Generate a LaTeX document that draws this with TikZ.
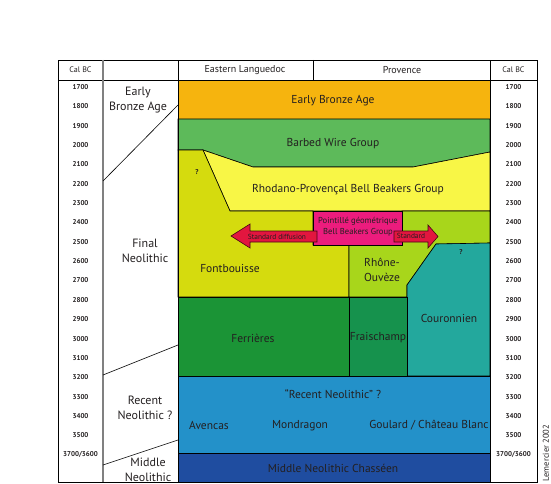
\documentclass[tikz,border=0pt]{standalone}
\usepackage{fontspec}
\setmainfont{PT Sans}
\usepackage{tikz}
\usetikzlibrary{positioning}

\definecolor{ebaorange}{HTML}{F6B40E}
\definecolor{barbedgreen}{HTML}{5DBA5A}
\definecolor{fontbyellow}{HTML}{D5DB0E}
\definecolor{rhodyellow}{HTML}{F8F646}
\definecolor{pointpink}{HTML}{EC1C7D}
\definecolor{arrowred}{HTML}{E2163F}
\definecolor{rhonegreen}{HTML}{A8D61B}
\definecolor{courteal}{HTML}{23A89D}
\definecolor{ferrgreen}{HTML}{1B9436}
\definecolor{fraigreen}{HTML}{16924D}
\definecolor{recentblue}{HTML}{2391C9}
\definecolor{middleblue}{HTML}{1F4DA0}
\definecolor{inkgray}{HTML}{231F20}

\begin{document}
\begin{tikzpicture}[
        x=1pt, y=-1pt,
        region/.style={draw=black, line width=0.6pt},
        blocklabel/.style={
            text=inkgray,
            inner sep=0pt,
            align=center,
            font=\fontsize{11.5}{13}\selectfont
        },
        periodlabel/.style={
            text=inkgray,
            inner sep=0pt,
            align=center,
            font=\fontsize{12}{15.5}\selectfont
        },
        calyear/.style={
            text=inkgray,
            inner sep=0pt,
            font=\fontsize{7}{8}\selectfont\bfseries
        },
        header/.style={
            text=inkgray,
            inner sep=0pt,
            font=\fontsize{10}{11}\selectfont
        },
        arrowtext/.style={
            text=inkgray,
            inner sep=0pt,
            font=\fontsize{7.4}{8}\selectfont
        },
        diffarrow/.style={fill=arrowred, draw=black!70!arrowred, line width=0.6pt}
    ]
        \useasboundingbox (0,0) rectangle (551,484);

        % main blocks
        \filldraw[region, fill=ebaorange] (178,80) rectangle (490,119);
        \filldraw[region, fill=barbedgreen] (178,119) -- (490,119) -- (490,152) -- (413,167)
            -- (253,167) -- (203,150) -- (178,150) -- cycle;
        \filldraw[region, fill=rhodyellow] (203,150) -- (253,167) -- (413,167) -- (490,152)
            -- (490,211) -- (230,211) -- cycle;
        \filldraw[region, fill=fontbyellow] (178,150) -- (203,150) -- (230,211) -- (313,211)
            -- (313,245) -- (349,245) -- (349,297) -- (178,297) -- cycle;
        \filldraw[region, fill=rhonegreen] (402,211) -- (490,211) -- (490,243) -- (436,244)
            -- (407,285) -- (407,297) -- (349,297) -- (349,245) -- (402,245) -- cycle;
        \filldraw[region, fill=pointpink] (313,211) rectangle (402,245);
        \filldraw[region, fill=courteal] (436,244) -- (490,243) -- (490,376) -- (407,376)
            -- (407,285) -- cycle;
        \filldraw[region, fill=ferrgreen] (178,297) rectangle (349,376);
        \filldraw[region, fill=fraigreen] (349,297) rectangle (407,376);
        \filldraw[region, fill=recentblue] (178,376) rectangle (490,453);
        \filldraw[region, fill=middleblue] (178,453) rectangle (490,482);

        % diffusion arrows
        \filldraw[diffarrow] (231,236) -- (250,224) -- (250,231) -- (317,231) -- (317,242)
            -- (250,242) -- (250,248) -- cycle;
        \filldraw[diffarrow] (394,231) -- (428,231) -- (428,225) -- (438,236.5) -- (428,248)
            -- (428,242) -- (394,242) -- cycle;

        % block labels
        \node[blocklabel] (eba) at (333,101) {Early Bronze Age};
        \node[blocklabel] (barbed) at (333,144) {Barbed Wire Group};
        \node[blocklabel] (rhodano) at (348,190) {Rhodano-Provençal Bell Beakers Group};
        \node[blocklabel, font=\fontsize{8.6}{11}\selectfont] (pointille) at (358,227)
            {Pointillé géométrique\\Bell Beakers Group};
        \node[arrowtext] (stddiff) at (277,237) {Standard diffusion};
        \node[arrowtext] (stdright) at (411,236) {Standard};
        \node[blocklabel] (fontb) at (230,268) {Fontbouisse};
        \node[blocklabel, font=\fontsize{11.5}{15}\selectfont] (rhone) at (382,270) {Rhône-\\Ouvèze};
        \node[blocklabel] (ferr) at (253,338) {Ferrières};
        \node[blocklabel] (fraisch) at (378,338) {Fraischamp};
        \node[blocklabel] (couronnien) at (449,318) {Couronnien};
        \node[blocklabel] (recent) at (333,394) {“Recent Neolithic” ?};
        \node[blocklabel] (avencas) at (209,425) {Avencas};
        \node[blocklabel] (mondragon) at (300,426) {Mondragon};
        \node[blocklabel] (goulard) at (429,425) {Goulard / Château Blanc};
        \node[blocklabel] (chasseen) at (333,468) {Middle Neolithic Chasséen};
        \node[arrowtext, font=\fontsize{7}{8}\selectfont\bfseries] (qleft) at (197,172) {?};
        \node[arrowtext, font=\fontsize{7}{8}\selectfont\bfseries] (qright) at (461,252) {?};

        % header row
        \draw[line width=0.6pt] (178,60) rectangle (490,80);
        \draw[line width=0.6pt] (313,60) -- (313,80);
        \node[header] (langue) at (245,70) {Eastern Languedoc};
        \node[header] (provence) at (402,70) {Provence};

        % calibrated columns
        \draw[line width=0.6pt] (58,60) rectangle (178,482);
        \draw[line width=0.6pt] (58,80) -- (178,80);
        \draw[gray, line width=1.6pt] (103,60) -- (103,482);
        \draw[line width=0.6pt] (490,60) rectangle (537,482);
        \draw[line width=0.6pt] (490,80) -- (537,80);
        \node[calyear, font=\fontsize{8}{9}\selectfont] (calleft) at (80.5,70) {Cal BC};
        \node[calyear, font=\fontsize{8}{9}\selectfont] (calright) at (513.5,70) {Cal BC};
        \foreach \yr [count=\i from 0] in {1700,1800,1900,2000,2100,2200,2300,2400,2500,2600,
                2700,2800,2900,3000,3100,3200,3300,3400,3500,3700/3600} {
            \node[calyear] (yl\i) at (80.5,87+19.35*\i) {\yr};
            \node[calyear] (yr\i) at (513.5,87+19.35*\i) {\yr};
        }

        % periods
        \node[periodlabel] (earlyba) at (138,100) {Early\\Bronze Age};
        \node[periodlabel] (finalneo) at (145,251) {Final\\Neolithic};
        \node[periodlabel] (recentneo) at (145,408) {Recent\\Neolithic ?};
        \node[periodlabel] (middleneo) at (148,470) {Middle\\Neolithic};
        \coordinate (p1a) at (103,181);
        \coordinate (p1b) at (178,105);
        \coordinate (p2a) at (103,375);
        \coordinate (p2b) at (178,345);
        \coordinate (p3a) at (103,465);
        \coordinate (p3b) at (178,440);
        \foreach \a/\b in {p1a/p1b,p2a/p2b,p3a/p3b} {
            \draw[line width=0.6pt] (\a) -- (\b);
        }

        \node[arrowtext, rotate=90, font=\fontsize{8.5}{10}\selectfont] (credit) at (546,453) {Lemercier 2002};
    \end{tikzpicture}
\end{document}
